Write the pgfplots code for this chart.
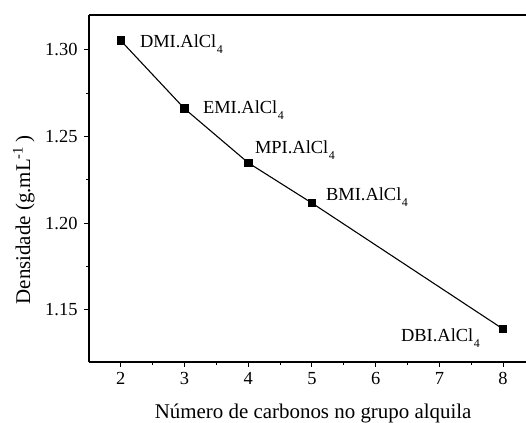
\documentclass[border=0pt]{standalone}
\usepackage{pgfplots}
\pgfplotsset{compat=1.18}
\usepackage{fontspec}
\setmainfont{Liberation Serif}
\newcommand{\sub}[1]{\kern0.5bp\raisebox{-6bp}{\fontsize{12}{12}\selectfont #1}}
\begin{document}
\begin{tikzpicture}
\begin{axis}[
  scale only axis,
  width=437bp, height=347bp,
  xmin=1.5, xmax=8.36,
  ymin=1.12, ymax=1.32,
  axis x line*=bottom, axis y line*=left,
  axis line style={line width=1.1pt},
  xtick={2,3,4,5,6,7,8},
  ytick={1.15,1.20,1.25,1.30},
  yticklabel style={xshift=-3bp, /pgf/number format/.cd,fixed,fixed zerofill,precision=2},
  minor x tick num=1, minor y tick num=1,
  tick align=outside,
  major tick length=5bp, minor tick length=3bp,
  tick style={line width=1pt, black},
  /pgf/number format/assume math mode=true,
  tick label style={font=\fontsize{18.5}{20}\selectfont},
  xticklabel style={yshift=-2bp},
  label style={font=\fontsize{21}{24}\selectfont},
  xlabel style={at={(axis description cs:0.513,-0.164)}, anchor=base},
  ylabel style={at={(axis description cs:-0.149,0.409)}, anchor=center},
  xlabel={Número de carbonos no grupo alquila},
  ylabel={Densidade (g.mL\textsuperscript{-1}\,)},
  clip=false,
]
\addplot[black, line width=1.1pt, mark=square*, mark size=3.7bp] coordinates {
(2,1.3052) (3,1.2660) (4,1.2348) (5,1.2116) (8,1.1390)
};
\node[anchor=base west, inner sep=0pt, font=\fontsize{18.5}{20}\selectfont] at (axis cs:2.298,1.3015) {DMI.AlCl\sub{4}};
\node[anchor=base west, inner sep=0pt, font=\fontsize{18.5}{20}\selectfont] at (axis cs:3.288,1.2631) {EMI.AlCl\sub{4}};
\node[anchor=base west, inner sep=0pt, font=\fontsize{18.5}{20}\selectfont] at (axis cs:4.104,1.2400) {MPI.AlCl\sub{4}};
\node[anchor=base west, inner sep=0pt, font=\fontsize{18.5}{20}\selectfont] at (axis cs:5.219,1.2128) {BMI.AlCl\sub{4}};
\node[anchor=base east, inner sep=0pt, font=\fontsize{18.5}{20}\selectfont] at (axis cs:7.638,1.1318) {DBI.AlCl\sub{4}};
\end{axis}
\draw[line width=1.1pt] (current axis.north west) -- (current axis.north east);
\pgfresetboundingbox
\path (current axis.south west) ++(-89bp,-61bp) rectangle ++(526bp,423bp);
\end{tikzpicture}
\end{document}
